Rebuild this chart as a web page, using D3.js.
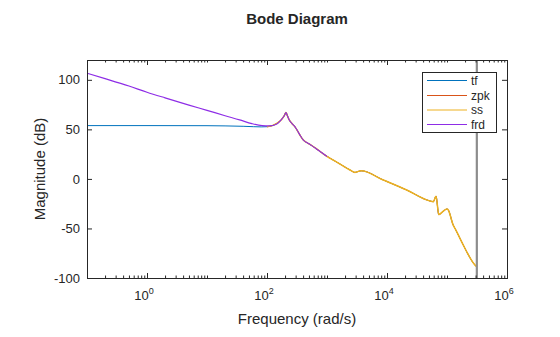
<!DOCTYPE html>
<html><head><meta charset="utf-8">
<script src="https://cdn.jsdelivr.net/npm/d3@7"></script>
<style>body{margin:0;background:#fff;} svg{display:block;font-family:"Liberation Sans",Arial,sans-serif;}</style>
</head><body>
<svg id="c" width="560" height="337"></svg>
<script>
// ---- data ----
const seriesNames = ["tf", "zpk", "ss", "frd"];
const seriesColors = ["#0072BD", "#D95319", "#EDB120", "#8E2DE6"];
// shared response above 100 rad/s (tf, zpk, ss coincide)
const hiFreq = [100, 125, 150, 175, 195, 207, 218, 235, 260, 293, 330, 360, 400, 450, 521, 708, 926, 1650, 2420, 2930, 3200, 3700, 8670, 21300, 52100, 59200, 65600, 73000, 85000, 100000, 104000, 127000, 136000, 187000, 213000, 293000, 314159];
const hiMag  = [52.7, 54, 56.5, 60, 64, 67, 64, 59.5, 56, 52.5, 47.5, 43.5, 39.5, 37, 34.8, 29.2, 24.1, 15, 9, 6.5, 7.2, 8.2, -1.1, -11.2, -22.3, -23, -17.5, -36, -33, -30.4, -31, -46.6, -50, -66.8, -73.5, -87, -88.7];
// low-frequency part of tf
const lowFreq = [0.1, 1, 10, 20, 40, 60, 80];
const lowMag  = [53.8, 53.8, 53.7, 53.5, 53.1, 52.7, 52.5];
// frd
const frdFreq = [0.1, 0.2, 0.5, 1, 2, 5, 10, 20, 35, 56, 83, 110, 146, 175, 195, 207, 218, 235, 260, 293, 330, 360, 400, 450, 521, 708, 926, 1000];
const frdMag  = [106.7, 101.2, 93.7, 87.5, 81.8, 74.5, 69.2, 63.8, 59.6, 55.8, 53.8, 53.5, 55.5, 60, 64, 67, 64, 59.5, 56, 52.5, 47.5, 43.5, 39.5, 37, 34.8, 29.2, 24.1, 22.6];
const nyquistFreq = 314159;
const xTickVals = [1, 100, 10000, 1000000];
const xTickExp = ["0", "2", "4", "6"];
const yTickVals = [-100, -50, 0, 50, 100];

// ---- layout ----
const svg = d3.select("#c");
const L = 87, R = 507, T = 60, B = 278;
const x = d3.scaleLog().domain([0.1, 1e6]).range([L, R]);
const y = d3.scaleLinear().domain([-100, 120]).range([B, T]);
const axisCol = "#262626";

const tfData = lowFreq.map((f, i) => [f, lowMag[i]]).concat(hiFreq.map((f, i) => [f, hiMag[i]]));
const hiData = hiFreq.map((f, i) => [f, hiMag[i]]);
const frdData = frdFreq.map((f, i) => [f, frdMag[i]]);
const seriesData = [tfData, hiData, hiData, frdData];
const seriesWidth = [1, 0.8, 1.5, 1.15];

const line = d3.line().x(d => x(d[0])).y(d => y(d[1])).curve(d3.curveMonotoneX);
const gPlot = svg.append("g");
gPlot.append("defs").append("clipPath").attr("id", "clip")
  .append("rect").attr("x", L).attr("y", T).attr("width", R - L).attr("height", B - T);
const gLines = gPlot.append("g").attr("clip-path", "url(#clip)");
seriesData.forEach((d, i) => {
  gLines.append("path").datum(d).attr("d", line)
    .attr("fill", "none").attr("stroke", seriesColors[i]).attr("stroke-width", seriesWidth[i])
    .attr("stroke-linejoin", "round");
});
// Nyquist frequency marker
gLines.append("line").attr("x1", x(nyquistFreq)).attr("x2", x(nyquistFreq))
  .attr("y1", T).attr("y2", B).attr("stroke", "#8c8c8c").attr("stroke-width", 2.2);

// ---- axes ----
const minorVals = [];
for (let e = -1; e <= 5; e++) for (let m = 1; m <= 9; m++) {
  const v = m * Math.pow(10, e);
  if (v >= 0.1 && v <= 1e6 && !xTickVals.includes(v)) minorVals.push(v);
}
const bottomMinor = d3.axisBottom(x).tickValues(minorVals).tickSize(-2.5).tickFormat("");
const bottomMajor = d3.axisBottom(x).tickValues(xTickVals).tickSize(-5).tickFormat("");
const topMinor = d3.axisTop(x).tickValues(minorVals).tickSize(-2.5).tickFormat("");
const topMajor = d3.axisTop(x).tickValues(xTickVals).tickSize(-5).tickFormat("");
const leftAx = d3.axisLeft(y).tickValues(yTickVals).tickSize(-5).tickFormat("");
const rightAx = d3.axisRight(y).tickValues(yTickVals).tickSize(-5).tickFormat("");

function styleAxis(g) {
  g.selectAll("path.domain").attr("stroke", axisCol).attr("stroke-width", 1);
  g.selectAll(".tick line").attr("stroke", axisCol).attr("stroke-width", 1);
}
svg.append("g").attr("transform", `translate(0,${B})`).call(bottomMinor).call(styleAxis);
svg.append("g").attr("transform", `translate(0,${B})`).call(bottomMajor).call(styleAxis);
svg.append("g").attr("transform", `translate(0,${T})`).call(topMinor).call(styleAxis);
svg.append("g").attr("transform", `translate(0,${T})`).call(topMajor).call(styleAxis);
svg.append("g").attr("transform", `translate(${L},0)`).call(leftAx).call(styleAxis);
svg.append("g").attr("transform", `translate(${R},0)`).call(rightAx).call(styleAxis);

// y tick labels
svg.append("g").selectAll("text").data(yTickVals).join("text")
  .attr("x", L - 7).attr("y", d => y(d)).attr("dy", "0.36em")
  .attr("text-anchor", "end").attr("font-size", 13).attr("fill", axisCol)
  .text(d => d);
// x tick labels 10^n
const xl = svg.append("g").selectAll("text").data(xTickVals).join("text")
  .attr("x", d => x(d) - 3).attr("y", 300)
  .attr("text-anchor", "middle").attr("font-size", 13).attr("fill", axisCol);
xl.append("tspan").text("10");
xl.append("tspan").attr("font-size", 9).attr("dy", -6).text((d, i) => xTickExp[i]);

// labels
svg.append("text").attr("x", (L + R) / 2).attr("y", 324).attr("text-anchor", "middle")
  .attr("font-size", 15).attr("fill", axisCol).text("Frequency (rad/s)");
svg.append("text").attr("transform", `translate(45,${(T + B) / 2}) rotate(-90)`)
  .attr("text-anchor", "middle").attr("font-size", 15).attr("fill", axisCol).text("Magnitude (dB)");
svg.append("text").attr("x", (L + R) / 2).attr("y", 24).attr("text-anchor", "middle")
  .attr("font-size", 15).attr("font-weight", "bold").attr("fill", axisCol).text("Bode Diagram");

// legend
const lg = svg.append("g");
lg.append("rect").attr("x", 422.5).attr("y", 72.5).attr("width", 74).attr("height", 60)
  .attr("fill", "#fff").attr("stroke", axisCol).attr("stroke-width", 1);
const rowY = [80.5, 95.5, 110, 124.5];
seriesNames.forEach((n, i) => {
  lg.append("line").attr("x1", 427).attr("x2", 467).attr("y1", rowY[i]).attr("y2", rowY[i])
    .attr("stroke", seriesColors[i]).attr("stroke-width", 1);
  lg.append("text").attr("x", 471).attr("y", rowY[i]).attr("dy", "0.36em")
    .attr("font-size", 12).attr("fill", axisCol).text(n);
});
</script>
</body></html>
